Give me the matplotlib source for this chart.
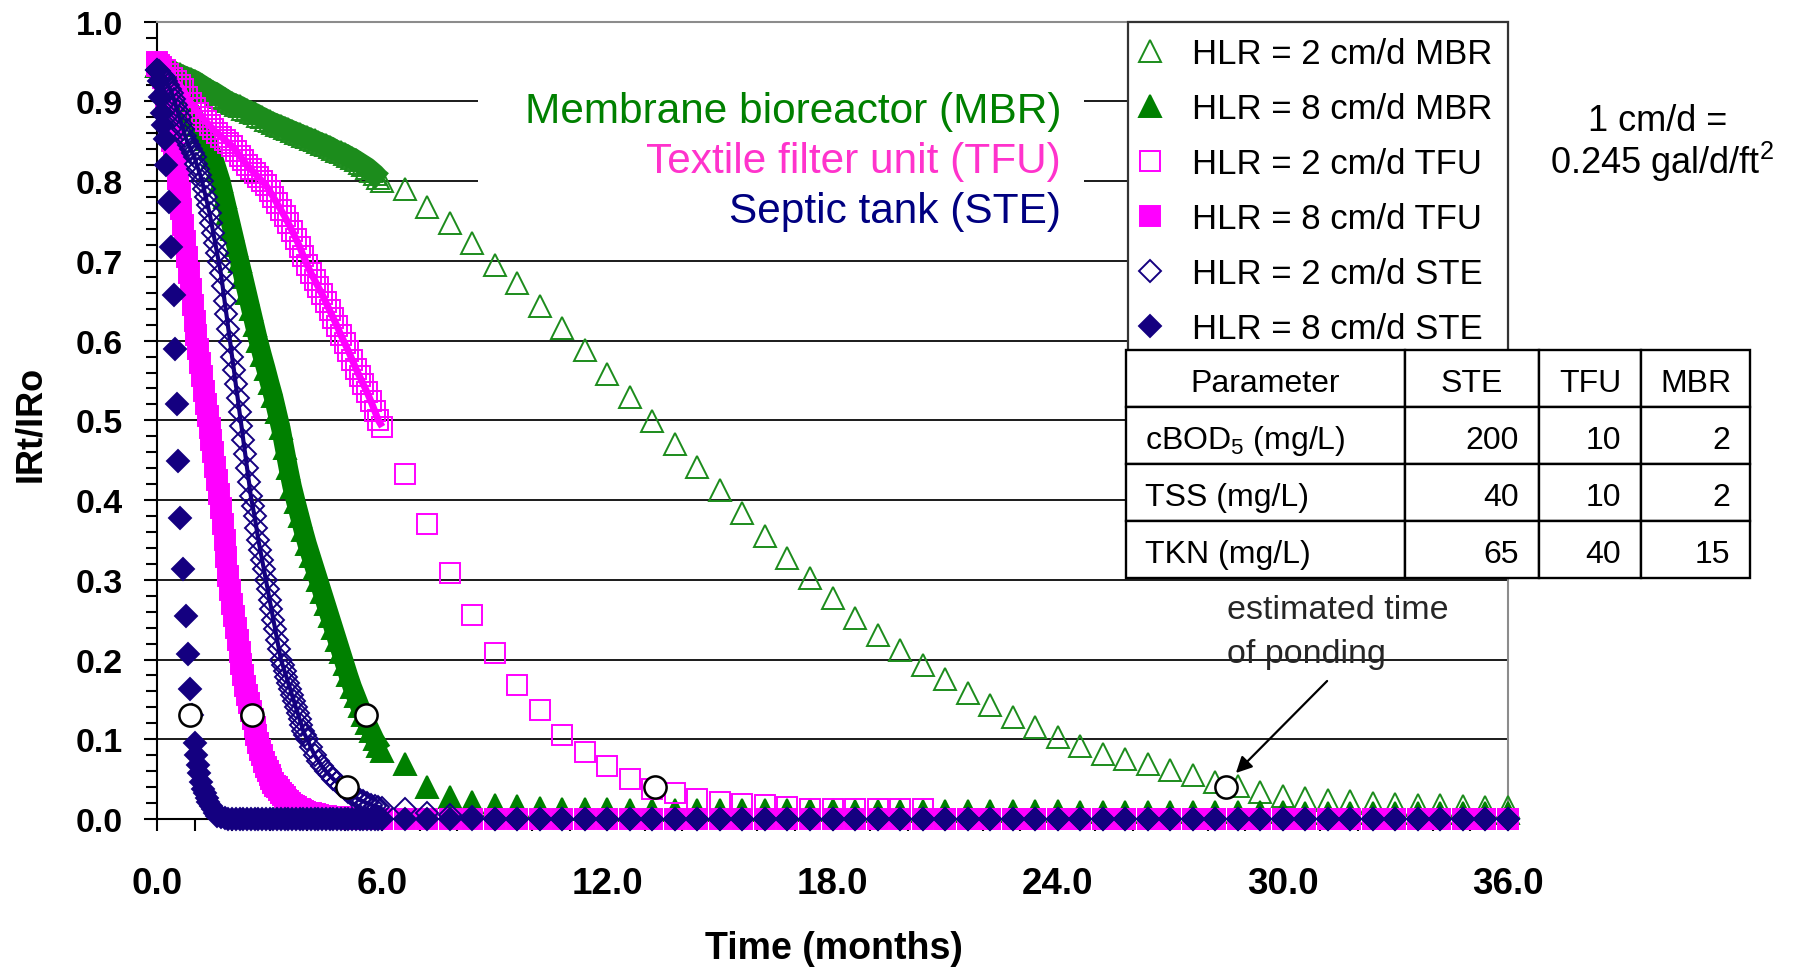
import matplotlib
matplotlib.use("Agg")
import matplotlib.pyplot as plt
from matplotlib.lines import Line2D
from matplotlib.patches import Rectangle

plt.rcParams["font.family"] = ["Liberation Sans", "DejaVu Sans"]
plt.rcParams["mathtext.fontset"] = "custom"
plt.rcParams["mathtext.rm"] = "Liberation Sans"

# ---- data (IRt/IRo vs time in months) ----
# dense part of the runs (first ~6 months)
t_day = [
    0.0, 0.1, 0.2, 0.3, 0.4, 0.5, 0.6, 0.7, 0.8, 0.9,
    1.0, 1.1, 1.2, 1.3, 1.4, 1.5, 1.6, 1.7, 1.8, 1.9,
    2.0, 2.1, 2.2, 2.3, 2.4, 2.5, 2.6, 2.7, 2.8, 2.9,
    3.0, 3.1, 3.2, 3.3, 3.4, 3.5, 3.6, 3.7, 3.8, 3.9,
    4.0, 4.1, 4.2, 4.3, 4.4, 4.5, 4.6, 4.7, 4.8, 4.9,
    5.0, 5.1, 5.2, 5.3, 5.4, 5.5, 5.6, 5.7, 5.8, 5.9,
    6.0,
]
t_fine = [
    0.0, 0.05, 0.1, 0.15, 0.2, 0.25, 0.3, 0.35, 0.4, 0.45,
    0.5, 0.55, 0.6, 0.65, 0.7, 0.75, 0.8, 0.85, 0.9, 0.95,
    1.0, 1.05, 1.1, 1.15, 1.2, 1.25, 1.3, 1.35, 1.4, 1.45,
    1.5, 1.55, 1.6, 1.65, 1.7, 1.75, 1.8, 1.85, 1.9, 1.95,
    2.0, 2.05, 2.1, 2.15, 2.2, 2.25, 2.3, 2.35, 2.4, 2.45,
    2.5, 2.55, 2.6, 2.65, 2.7, 2.75, 2.8, 2.85, 2.9, 2.95,
    3.0, 3.05, 3.1, 3.15, 3.2, 3.25, 3.3, 3.35, 3.4, 3.45,
    3.5, 3.55, 3.6, 3.65, 3.7, 3.75, 3.8, 3.85, 3.9, 3.95,
    4.0,
]
t_tail = [
    4.1, 4.2, 4.3, 4.4, 4.5, 4.6, 4.7, 4.8, 4.9, 5.0,
    5.1, 5.2, 5.3, 5.4, 5.5, 5.6, 5.7, 5.8, 5.9, 6.0,
]
# sparse part (every ~18 days)
t_late = [
    6.6, 7.2, 7.8, 8.4, 9.0, 9.6, 10.2, 10.8, 11.4, 12.0,
    12.6, 13.2, 13.8, 14.4, 15.0, 15.6, 16.2, 16.8, 17.4, 18.0,
    18.6, 19.2, 19.8, 20.4, 21.0, 21.6, 22.2, 22.8, 23.4, 24.0,
    24.6, 25.2, 25.8, 26.4, 27.0, 27.6, 28.2, 28.8, 29.4, 30.0,
    30.6, 31.2, 31.8, 32.4, 33.0, 33.6, 34.2, 34.8, 35.4, 36.0,
]

mbr2_day = [
    0.945, 0.944, 0.942, 0.940, 0.938, 0.936, 0.934, 0.932, 0.930, 0.928,
    0.926, 0.923, 0.920, 0.917, 0.914, 0.912, 0.909, 0.906, 0.903, 0.900,
    0.898, 0.896, 0.894, 0.891, 0.889, 0.887, 0.885, 0.882, 0.880, 0.877,
    0.875, 0.873, 0.871, 0.869, 0.867, 0.865, 0.863, 0.861, 0.859, 0.857,
    0.855, 0.853, 0.851, 0.849, 0.847, 0.845, 0.843, 0.840, 0.838, 0.836,
    0.834, 0.831, 0.829, 0.826, 0.823, 0.820, 0.817, 0.813, 0.809, 0.804,
    0.800,
]
mbr2_late = [
    0.790, 0.768, 0.748, 0.722, 0.695, 0.672, 0.643, 0.616, 0.588, 0.558,
    0.529, 0.499, 0.470, 0.442, 0.413, 0.384, 0.355, 0.327, 0.302, 0.277,
    0.252, 0.231, 0.212, 0.193, 0.175, 0.158, 0.143, 0.128, 0.116, 0.103,
    0.091, 0.082, 0.075, 0.069, 0.062, 0.055, 0.047, 0.041, 0.034, 0.029,
    0.026, 0.024, 0.022, 0.020, 0.019, 0.018, 0.017, 0.016, 0.015, 0.015,
]
mbr8_day = [
    0.945, 0.940, 0.935, 0.930, 0.925, 0.918, 0.910, 0.903, 0.895, 0.888,
    0.880, 0.870, 0.862, 0.853, 0.842, 0.830, 0.815, 0.800, 0.780, 0.760,
    0.740, 0.720, 0.700, 0.680, 0.660, 0.640, 0.620, 0.600, 0.582, 0.565,
    0.547, 0.530, 0.510, 0.490, 0.465, 0.440, 0.417, 0.398, 0.380, 0.362,
    0.345, 0.330, 0.315, 0.300, 0.285, 0.270, 0.255, 0.240, 0.225, 0.210,
    0.195, 0.180, 0.166, 0.154, 0.142, 0.131, 0.120, 0.110, 0.100, 0.092,
    0.085,
]
mbr8_late = [
    0.069, 0.040, 0.027, 0.021, 0.018, 0.016, 0.014, 0.013, 0.012, 0.012,
    0.011, 0.011, 0.011, 0.011, 0.011, 0.011, 0.011, 0.011, 0.011, 0.011,
    0.010, 0.010, 0.010, 0.010, 0.010, 0.010, 0.010, 0.010, 0.010, 0.010,
    0.009, 0.009, 0.009, 0.009, 0.009, 0.009, 0.009, 0.009, 0.009, 0.009,
    0.008, 0.008, 0.008, 0.008, 0.008, 0.008, 0.008, 0.008, 0.008, 0.008,
]
tfu2_day = [
    0.945, 0.943, 0.940, 0.935, 0.930, 0.925, 0.920, 0.915, 0.905, 0.898,
    0.892, 0.886, 0.880, 0.875, 0.870, 0.865, 0.860, 0.856, 0.852, 0.848,
    0.844, 0.838, 0.832, 0.826, 0.820, 0.815, 0.810, 0.805, 0.800, 0.795,
    0.788, 0.780, 0.772, 0.764, 0.756, 0.747, 0.738, 0.728, 0.718, 0.706,
    0.695, 0.685, 0.676, 0.667, 0.658, 0.648, 0.638, 0.628, 0.618, 0.607,
    0.597, 0.587, 0.576, 0.565, 0.555, 0.545, 0.535, 0.524, 0.512, 0.500,
    0.492,
]
tfu2_late = [
    0.433, 0.370, 0.309, 0.256, 0.208, 0.168, 0.137, 0.105, 0.084, 0.067,
    0.050, 0.038, 0.032, 0.025, 0.021, 0.019, 0.017, 0.015, 0.013, 0.013,
    0.012, 0.012, 0.012, 0.012, 0.0, 0.0, 0.0, 0.0, 0.0, 0.0,
    0.0, 0.0, 0.0, 0.0, 0.0, 0.0, 0.0, 0.0, 0.0, 0.0,
    0.0, 0.0, 0.0, 0.0, 0.0, 0.0, 0.0, 0.0, 0.0, 0.0,
]
tfu8_fine = [
    0.950, 0.946, 0.940, 0.930, 0.915, 0.900, 0.885, 0.868, 0.850, 0.835,
    0.820, 0.803, 0.785, 0.765, 0.745, 0.725, 0.705, 0.685, 0.665, 0.645,
    0.625, 0.607, 0.590, 0.572, 0.555, 0.537, 0.520, 0.505, 0.490, 0.475,
    0.460, 0.442, 0.425, 0.408, 0.390, 0.370, 0.350, 0.328, 0.305, 0.287,
    0.270, 0.255, 0.240, 0.225, 0.210, 0.195, 0.180, 0.167, 0.155, 0.145,
    0.135, 0.125, 0.115, 0.105, 0.095, 0.087, 0.080, 0.072, 0.065, 0.060,
    0.055, 0.050, 0.045, 0.042, 0.040, 0.036, 0.033, 0.030, 0.027, 0.024,
    0.022, 0.020, 0.018, 0.016, 0.015, 0.013, 0.012, 0.011, 0.010, 0.009,
    0.008,
]
tfu8_tail = [
    0.007, 0.006, 0.005, 0.004, 0.004, 0.003, 0.003, 0.002, 0.002, 0.001,
    0.001, 0.0, 0.0, 0.0, 0.0, 0.0, 0.0, 0.0, 0.0, 0.0,
]
tfu8_late = [
    0.0, 0.0, 0.0, 0.0, 0.0, 0.0, 0.0, 0.0, 0.0, 0.0,
    0.0, 0.0, 0.0, 0.0, 0.0, 0.0, 0.0, 0.0, 0.0, 0.0,
    0.0, 0.0, 0.0, 0.0, 0.0, 0.0, 0.0, 0.0, 0.0, 0.0,
    0.0, 0.0, 0.0, 0.0, 0.0, 0.0, 0.0, 0.0, 0.0, 0.0,
    0.0, 0.0, 0.0, 0.0, 0.0, 0.0, 0.0, 0.0, 0.0, 0.0,
]
ste2_fine = [
    0.940, 0.938, 0.935, 0.932, 0.930, 0.925, 0.920, 0.915, 0.910, 0.903,
    0.895, 0.888, 0.880, 0.872, 0.865, 0.857, 0.850, 0.845, 0.840, 0.835,
    0.830, 0.822, 0.815, 0.808, 0.800, 0.790, 0.780, 0.770, 0.760, 0.748,
    0.735, 0.723, 0.710, 0.698, 0.685, 0.668, 0.650, 0.633, 0.615, 0.598,
    0.580, 0.563, 0.545, 0.528, 0.510, 0.493, 0.475, 0.458, 0.440, 0.423,
    0.405, 0.392, 0.380, 0.365, 0.350, 0.338, 0.325, 0.313, 0.300, 0.288,
    0.275, 0.263, 0.250, 0.238, 0.225, 0.213, 0.200, 0.193, 0.185, 0.178,
    0.170, 0.163, 0.155, 0.148, 0.140, 0.133, 0.125, 0.118, 0.110, 0.105,
    0.100,
]
ste2_tail = [
    0.090, 0.080, 0.073, 0.066, 0.060, 0.055, 0.050, 0.046, 0.042, 0.038,
    0.034, 0.030, 0.027, 0.024, 0.022, 0.020, 0.018, 0.016, 0.015, 0.014,
]
ste2_late = [
    0.012, 0.008, 0.005, 0.003, 0.0, 0.0, 0.0, 0.0, 0.0, 0.0,
    0.0, 0.0, 0.0, 0.0, 0.0, 0.0, 0.0, 0.0, 0.0, 0.0,
    0.0, 0.0, 0.0, 0.0, 0.0, 0.0, 0.0, 0.0, 0.0, 0.0,
    0.0, 0.0, 0.0, 0.0, 0.0, 0.0, 0.0, 0.0, 0.0, 0.0,
    0.0, 0.0, 0.0, 0.0, 0.0, 0.0, 0.0, 0.0, 0.0, 0.0,
]
ste8_t_early = [
    0.0, 0.04, 0.08, 0.12, 0.16, 0.2, 0.25, 0.31, 0.38, 0.44,
    0.49, 0.53, 0.56, 0.61, 0.69, 0.76, 0.82, 0.89, 0.93, 1.0,
    1.04, 1.08, 1.12, 1.17, 1.22, 1.27, 1.32, 1.37, 1.43, 1.48,
    1.54, 1.6, 1.7, 1.8, 1.9,
]
ste8_v_early = [
    0.940, 0.925, 0.905, 0.885, 0.870, 0.853, 0.820, 0.774, 0.717, 0.657,
    0.590, 0.521, 0.449, 0.377, 0.314, 0.254, 0.207, 0.163, 0.130, 0.095,
    0.080, 0.068, 0.058, 0.046, 0.038, 0.032, 0.026, 0.021, 0.016, 0.012,
    0.008, 0.004, 0.002, 0.001, 0.0,
]
ste8_band = [  # on t_day from 2.0 to 6.0
    0.0, 0.0, 0.0, 0.0, 0.0, 0.0, 0.0, 0.0, 0.0, 0.0,
    0.0, 0.0, 0.0, 0.0, 0.0, 0.0, 0.0, 0.0, 0.0, 0.0,
    0.0, 0.0, 0.0, 0.0, 0.0, 0.0, 0.0, 0.0, 0.0, 0.0,
    0.0, 0.0, 0.0, 0.0, 0.0, 0.0, 0.0, 0.0, 0.0, 0.0,
    0.0,
]
ste8_late = [
    0.0, 0.0, 0.0, 0.0, 0.0, 0.0, 0.0, 0.0, 0.0, 0.0,
    0.0, 0.0, 0.0, 0.0, 0.0, 0.0, 0.0, 0.0, 0.0, 0.0,
    0.0, 0.0, 0.0, 0.0, 0.0, 0.0, 0.0, 0.0, 0.0, 0.0,
    0.0, 0.0, 0.0, 0.0, 0.0, 0.0, 0.0, 0.0, 0.0, 0.0,
    0.0, 0.0, 0.0, 0.0, 0.0, 0.0, 0.0, 0.0, 0.0, 0.0,
]

# estimated time of ponding (open circles)
pond_t = [0.87, 2.53, 5.58, 5.05, 13.28, 28.48]
pond_v = [0.13, 0.13, 0.13, 0.04, 0.04, 0.04]

labels = [
    "HLR = 2 cm/d MBR", "HLR = 8 cm/d MBR",
    "HLR = 2 cm/d TFU", "HLR = 8 cm/d TFU",
    "HLR = 2 cm/d STE", "HLR = 8 cm/d STE",
]
systems = ["Membrane bioreactor (MBR)", "Textile filter unit (TFU)", "Septic tank (STE)"]

tbl_header = ["Parameter", "STE", "TFU", "MBR"]
tbl_param = [r"cBOD$_\mathregular{5}$ (mg/L)", "TSS (mg/L)", "TKN (mg/L)"]
tbl_ste = [200, 40, 65]
tbl_tfu = [10, 10, 40]
tbl_mbr = [2, 2, 15]

GREEN = "#008000"
GREEN_OPEN = "#1c8c1c"
MAGENTA = "#ff00ff"
NAVY = "#140080"

W, H = 1798, 970


def fx(px):
    return px / W


def fy(py):
    return 1.0 - py / H


fig = plt.figure(figsize=(W / 100, H / 100), dpi=100)
ax = fig.add_axes([fx(157), fy(820), 1351 / W, 797.3 / H])
ax.set_xlim(0, 36)
ax.set_ylim(0, 1.0)

# horizontal grid lines (not at 0 and 1)
for lev in [0.1, 0.2, 0.3, 0.4, 0.5, 0.6, 0.7, 0.8, 0.9]:
    ax.axhline(lev, color="#1a1a1a", lw=1.4, zorder=0.5)

# series: label idx, dense parts (t, v), sparse values, marker, size, filled, colour,
# width of the band that the daily points form
series = [
    (0, [(t_day, mbr2_day)], mbr2_late, "^", 16, False, GREEN_OPEN, 15),
    (1, [(t_day, mbr8_day)], mbr8_late, "^", 16, True, GREEN, 14),
    (2, [(t_day, tfu2_day)], tfu2_late, "s", 15, False, MAGENTA, 5),
    (3, [(t_fine + t_tail, tfu8_fine + tfu8_tail)], tfu8_late, "s", 15, True, MAGENTA, 13),
    (4, [(t_fine + t_tail, ste2_fine + ste2_tail)], ste2_late, "D", 11.5, False, NAVY, 3),
    (5, [(ste8_t_early, ste8_v_early), (t_day[20:], ste8_band)], ste8_late, "D", 11.5, True, NAVY, 0),
]

handles = []
for z, (idx, dense, late, mk, ms, filled, col, band) in enumerate(series):
    style = dict(ls="none", marker=mk, ms=ms, mec=col,
                 mfc=col if filled else "none", mew=1.4)
    if band:
        tt, vv = dense[0]
        ax.plot(tt, vv, color=col, lw=band, solid_capstyle="butt",
                solid_joinstyle="round", clip_on=False, zorder=3 + z)
    for tt, vv in dense:
        ax.plot(tt, vv, clip_on=False, zorder=3 + z, **style)
    ax.plot(t_late, late, clip_on=False, zorder=3 + z, **style)
    handles.append(Line2D([], [], **style))

ax.plot(pond_t, pond_v, ls="none", marker="o", ms=16, mfc="white", mec="black",
        mew=1.8, clip_on=False, zorder=10)

# white box behind the system names
ax.add_patch(Rectangle((8.55, 0.742), 16.15, 0.21, fc="white", ec="none", zorder=1))
sys_colors = [GREEN, "#ff33cc", "#000080"]
for name, c, yb in zip(systems, sys_colors, [0.8746, 0.812, 0.749]):
    ax.text(24.09, yb, name, color=c, fontsize=30.5, ha="right", va="baseline", zorder=2)

# spines / ticks
for s in ["left", "bottom"]:
    ax.spines[s].set_color("black")
    ax.spines[s].set_linewidth(1.5)
for s in ["top", "right"]:
    ax.spines[s].set_color("#8c8c8c")
    ax.spines[s].set_linewidth(1.5)

xt = list(range(0, 37, 6))
ax.set_xticks(xt)
ax.set_xticklabels([f"{v:.1f}" for v in xt], fontweight="bold", fontsize=26.5)
ax.set_xticks(list(range(0, 37)), minor=True)
yt = [i / 10 for i in range(11)]
ax.set_yticks(yt)
ax.set_yticklabels([f"{v:.1f}" for v in yt], fontweight="bold", fontsize=24.5)
ax.set_yticks([i / 50 for i in range(51)], minor=True)
ax.tick_params(axis="x", which="both", direction="out", length=8.5, width=1.5, pad=25, top=False)
ax.tick_params(axis="y", which="major", direction="out", length=9.5, width=1.5, pad=15, right=False)
ax.tick_params(axis="y", which="minor", direction="out", length=8, width=1.5, right=False)
ax.set_axisbelow(True)

fig.text(fx(31), fy(424), "IRt/IRo", rotation=90, ha="center", va="center",
         fontsize=26, fontweight="bold")
fig.text(fx(834), fy(949), "Time (months)", ha="center", va="center",
         fontsize=27, fontweight="bold")

# legend
leg = ax.legend(handles, labels, loc="upper right", bbox_to_anchor=(1.0, 1.0),
                borderaxespad=0.0, fontsize=25, frameon=True, fancybox=False,
                edgecolor="#333333", framealpha=1.0, handlelength=0.4,
                handletextpad=1.0, borderpad=0.45, labelspacing=0.63)
leg.get_frame().set_linewidth(1.6)
leg.set_zorder(6)

# ponding annotation
ax.text(28.51, 0.2521, "estimated time", fontsize=24.5, color="#262626", ha="left",
        va="baseline", zorder=9)
ax.text(28.51, 0.1969, "of ponding", fontsize=24.5, color="#262626", ha="left",
        va="baseline", zorder=9)
ax.annotate("", xy=(28.75, 0.0577), xytext=(31.18, 0.1731),
            arrowprops=dict(arrowstyle="-|>", color="black", lw=1.6,
                            mutation_scale=24, shrinkA=0, shrinkB=0),
            zorder=11)

# unit conversion note
fig.text(fx(1658), fy(131), "1 cm/d =", fontsize=26, ha="center", va="baseline")
fig.text(fx(1662), fy(173.5), r"0.245 gal/d/ft$^\mathregular{2}$", fontsize=26,
         ha="center", va="baseline")

# effluent quality table
col_edges = [1126, 1405, 1539, 1641, 1750]
row_edges = [351, 408, 465, 522, 579]
rows = [tbl_header] + [[p, str(a), str(b), str(c)]
                       for p, a, b, c in zip(tbl_param, tbl_ste, tbl_tfu, tbl_mbr)]
for i, row in enumerate(rows):
    y0, y1 = row_edges[i], row_edges[i + 1]
    for j, txt in enumerate(row):
        x0, x1 = col_edges[j], col_edges[j + 1]
        fig.add_artist(Rectangle((fx(x0), fy(y1)), fx(x1) - fx(x0), fy(y0) - fy(y1),
                                 transform=fig.transFigure, fc="white", ec="black",
                                 lw=1.7, zorder=3))
        yc = fy((y0 + y1) / 2 + 5)
        if i == 0:
            fig.text(fx((x0 + x1) / 2), yc, txt, fontsize=23, ha="center", va="center", zorder=4)
        elif j == 0:
            fig.text(fx(x0 + 19), yc, txt, fontsize=23, ha="left", va="center", zorder=4)
        else:
            fig.text(fx(x1 - 20), yc, txt, fontsize=23, ha="right", va="center", zorder=4)

fig.savefig("out.png", dpi=100)
